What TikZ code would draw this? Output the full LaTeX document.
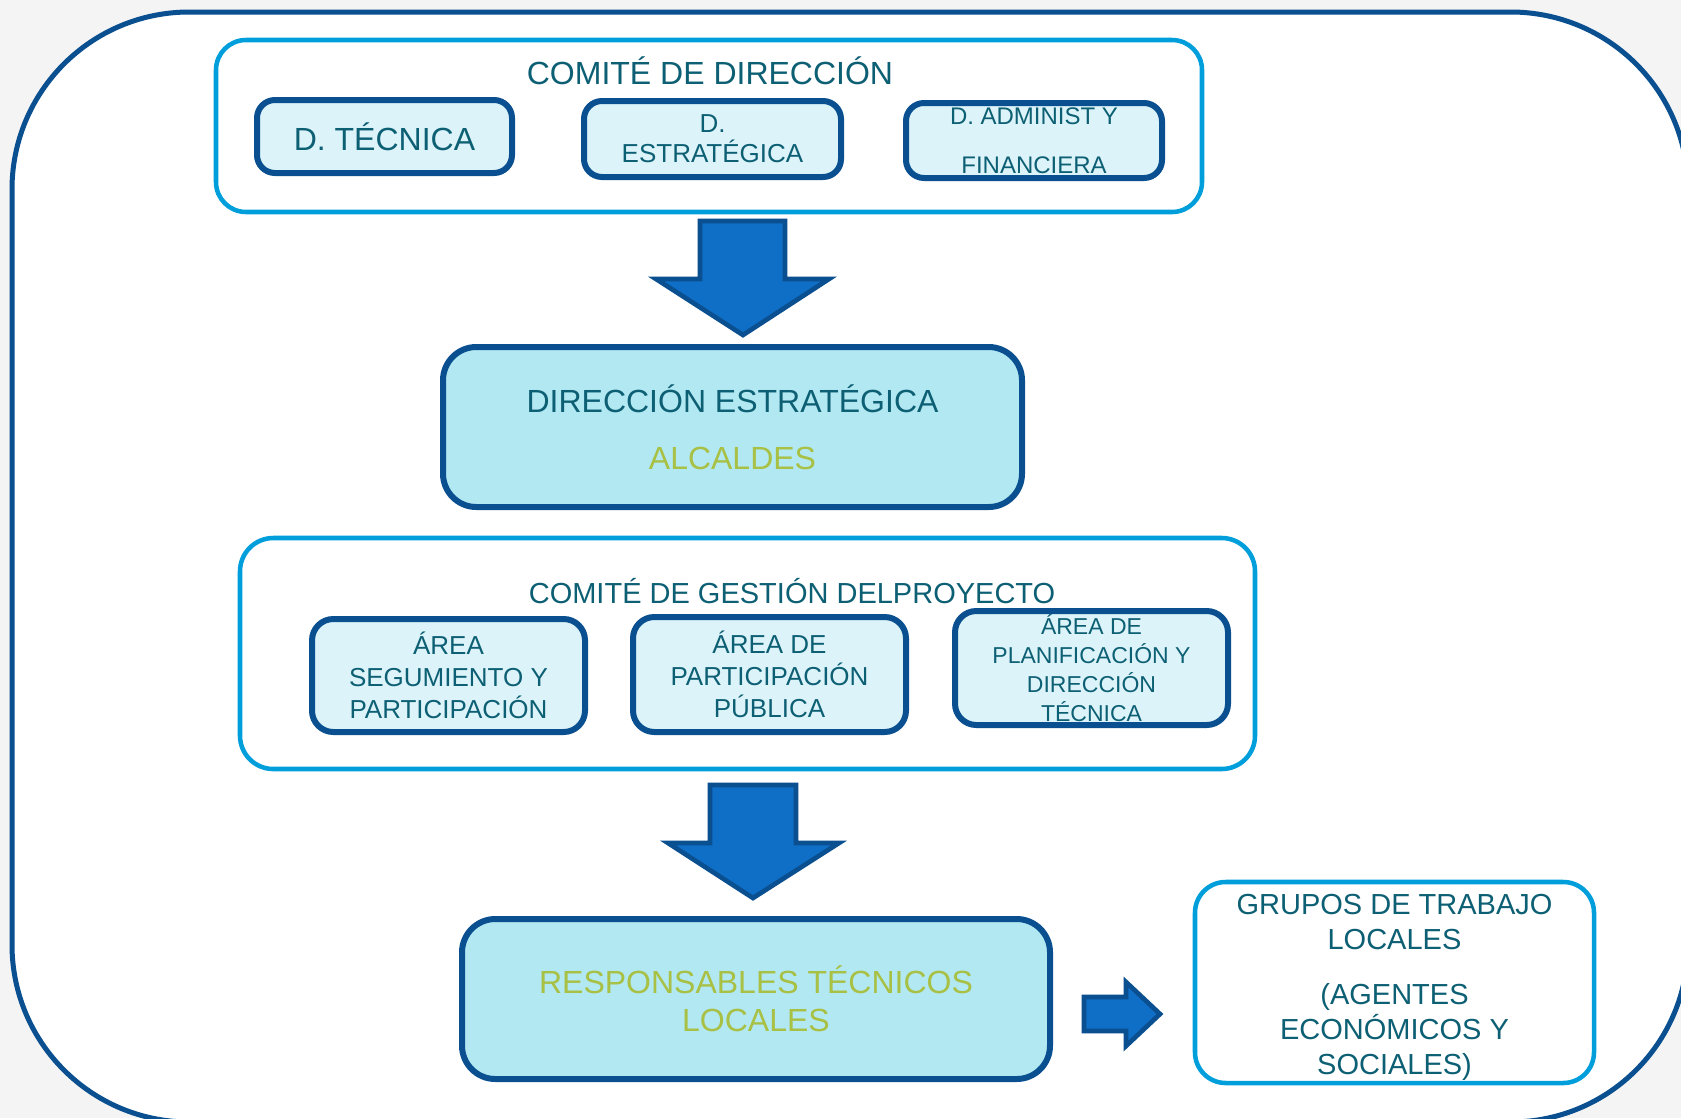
\documentclass[tikz,border=0pt]{standalone}
\usepackage{fontspec}
\setmainfont{Liberation Sans}
\usetikzlibrary{calc}
\definecolor{dkblue}{HTML}{0A4F8F}
\definecolor{cyanb}{HTML}{009FDB}
\definecolor{lfill}{HTML}{DCF4F9}
\definecolor{bfill}{HTML}{B2E8F2}
\definecolor{txtteal}{HTML}{0D5F74}
\definecolor{txtgreen}{HTML}{A8C043}
\definecolor{arrfill}{HTML}{0F6EC6}
\definecolor{bggray}{HTML}{F4F4F4}
\newcommand\fsz[2]{\fontsize{#1}{#2}\selectfont}
\begin{document}
\begin{tikzpicture}[x=0.75pt,y=-0.75pt,
  committee/.style={draw=cyanb, line width=3.4pt, rounded corners=22.5pt, fill=white, inner sep=0pt},
  subbox/.style={draw=dkblue, line width=4.5pt, rounded corners=13.5pt, fill=lfill, inner sep=0pt, align=center, text=txtteal},
  areabox/.style={subbox, rounded corners=16pt},
  bigbox/.style={draw=dkblue, line width=4.5pt, rounded corners=25pt, fill=bfill, inner sep=0pt, align=center},
  blockarrow/.style={draw=dkblue, line width=3.5pt, fill=arrfill, line join=miter},
  ttl/.style={text=txtteal, inner sep=0pt, anchor=base}
]
\useasboundingbox (0,0) rectangle (1681,1118);
\fill[bggray] (0,0) rectangle (1681,1118);
\clip (0,0) rectangle (1681,1118);
\draw[dkblue, line width=3.75pt, fill=white, rounded corners=133pt] (12,12) rectangle (1688,1122);

% Comite de direccion
\node[committee, minimum width=986*0.75pt, minimum height=172*0.75pt] (cd) at (709,126) {};
\node[ttl, font=\fsz{24pt}{28pt}] (cdt) at (710,84) {COMITÉ DE DIRECCIÓN};
\node[subbox, minimum width=255*0.75pt, minimum height=73*0.75pt, font=\fsz{24pt}{28pt}] (dt) at (384.5,136.5) {D. TÉCNICA};
\node[subbox, minimum width=257*0.75pt, minimum height=76*0.75pt, font=\fsz{19.5pt}{22.5pt}] (des) at (712.5,139) {D.\\ESTRATÉGICA};
\node[subbox, minimum width=256*0.75pt, minimum height=75*0.75pt, font=\fsz{18pt}{36.75pt}] (dad) at (1034,140.5) {D. ADMINIST Y\\FINANCIERA};

\draw[blockarrow] (700,221) -- (785,221) -- (785,279) -- (829,279) -- (743,335) -- (656,279) -- (700,279) -- cycle;

% Direccion estrategica
\node[bigbox, minimum width=579*0.75pt, minimum height=160*0.75pt, font=\fsz{24pt}{42.75pt}] (de) at (732.5,427) {\textcolor{txtteal}{DIRECCIÓN ESTRATÉGICA}\\\textcolor{txtgreen}{ALCALDES}};

% Comite de gestion
\node[committee, rounded corners=25pt, minimum width=1015*0.75pt, minimum height=231*0.75pt] (cg) at (747.5,653.5) {};
\node[ttl, font=\fsz{21.75pt}{26pt}] (cgt) at (792,603) {COMITÉ DE GESTIÓN DELPROYECTO};
\node[areabox, minimum width=273*0.75pt, minimum height=113*0.75pt, font=\fsz{19.5pt}{24pt}] (aa) at (448.5,675.5) {ÁREA\\SEGUMIENTO Y\\PARTICIPACIÓN};
\node[areabox, minimum width=273*0.75pt, minimum height=115*0.75pt, font=\fsz{19.5pt}{24pt}] (ab) at (769.5,674.5) {ÁREA DE\\PARTICIPACIÓN\\PÚBLICA};
\node[areabox, minimum width=273*0.75pt, minimum height=114*0.75pt, font=\fsz{17.25pt}{21.75pt}] (ac) at (1091.5,668) {ÁREA DE\\PLANIFICACIÓN Y\\DIRECCIÓN\\TÉCNICA};

\draw[blockarrow] (710,785) -- (796,785) -- (796,843) -- (839,843) -- (753,898) -- (668,843) -- (710,843) -- cycle;

% Responsables
\node[bigbox, minimum width=588*0.75pt, minimum height=160*0.75pt, font=\fsz{24pt}{28.5pt}, text=txtgreen] (rt) at (756,999) {RESPONSABLES TÉCNICOS\\LOCALES};

\draw[blockarrow] (1084,997) -- (1126,997) -- (1126,982) -- (1160,1014) -- (1126,1046) -- (1126,1031) -- (1084,1031) -- cycle;

% Grupos
\node[committee, rounded corners=23pt, minimum width=399*0.75pt, minimum height=201*0.75pt, align=center, text=txtteal, font=\fsz{21.75pt}{26.25pt}] (gt) at (1394.5,982.5) {};
\node[align=center, text=txtteal, font=\fsz{21.75pt}{26.25pt}, inner sep=0pt] (gtt) at (1394.5,987.5) {GRUPOS DE TRABAJO\\LOCALES\\[15pt](AGENTES\\ECONÓMICOS Y\\SOCIALES)};
\end{tikzpicture}
\end{document}
